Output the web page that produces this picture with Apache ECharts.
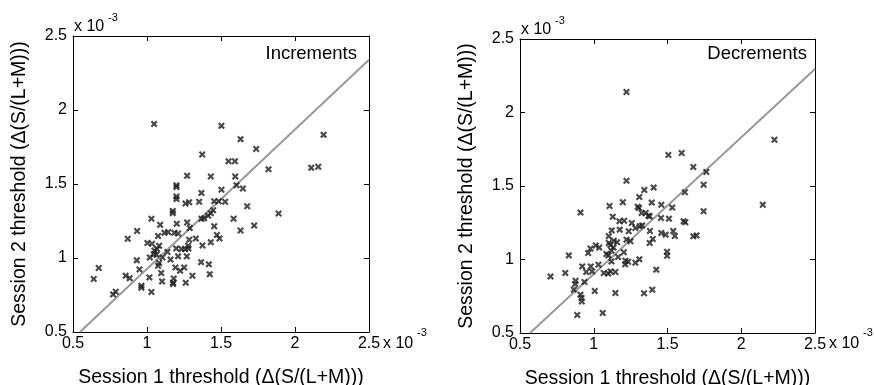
<!DOCTYPE html>
<html><head><meta charset="utf-8">
<script src="https://cdn.jsdelivr.net/npm/echarts@6/dist/echarts.min.js"></script>
<style>html,body{margin:0;padding:0;background:#fff}#c{width:874px;height:385px}</style>
</head><body><div id="c"></div>
<script>
const ticks = [0.5, 1, 1.5, 2, 2.5];
const incX = [1.048,1.503,1.632,1.738,2.193,2.110,2.157,1.821,1.889,1.373,1.551,1.594,1.271,1.431,1.596,1.605,1.648,1.503,1.199,1.199,1.199,1.199,1.368,1.260,1.285,1.352,1.454,1.485,1.528,1.677,1.174,1.174,1.447,1.431,1.413,1.386,1.368,1.030,1.585,1.271,1.201,1.089,1.454,1.724,1.632,0.933,1.118,1.143,1.185,1.210,1.075,1.289,0.870,1.330,1.472,1.490,1.285,1.431,1.003,1.034,1.082,1.068,1.375,1.278,1.280,1.258,1.197,1.233,1.050,1.046,1.138,1.064,1.019,0.931,1.104,1.210,1.269,1.159,1.082,1.075,1.366,1.418,0.949,1.192,1.251,1.224,0.674,0.640,0.856,0.883,1.016,1.096,1.102,1.181,1.176,1.176,1.262,1.307,1.424,0.962,0.962,1.030,0.771,0.789];
const incY = [1.906,1.893,1.803,1.737,1.832,1.609,1.616,1.600,1.301,1.699,1.654,1.654,1.555,1.551,1.551,1.492,1.470,1.461,1.492,1.479,1.416,1.398,1.440,1.368,1.377,1.380,1.384,1.384,1.380,1.350,1.317,1.303,1.323,1.303,1.285,1.269,1.265,1.265,1.265,1.240,1.231,1.224,1.215,1.220,1.186,1.182,1.170,1.175,1.170,1.166,1.148,1.202,1.130,1.132,1.155,1.132,1.123,1.107,1.101,1.096,1.083,1.060,1.085,1.083,1.065,1.060,1.065,1.060,1.051,1.026,1.040,1.022,1.004,0.984,1.004,1.011,1.011,0.990,0.966,0.948,0.972,0.957,0.923,0.936,0.936,0.914,0.932,0.858,0.880,0.864,0.869,0.898,0.842,0.862,0.824,0.833,0.833,0.880,0.891,0.813,0.799,0.770,0.754,0.772];
const decX = [1.222,2.225,2.146,1.506,1.596,1.675,1.763,1.745,1.618,1.745,1.222,1.406,1.343,1.309,1.197,1.393,1.458,1.107,0.910,1.298,1.307,1.325,1.352,1.379,1.370,1.532,1.456,1.510,1.174,1.206,1.129,1.258,1.312,1.328,1.609,1.621,1.176,1.122,1.237,1.282,1.381,1.458,1.488,1.539,1.550,1.675,1.697,1.102,1.400,1.379,1.222,1.136,1.102,1.113,1.158,1.249,1.014,1.037,0.978,0.962,1.086,1.100,1.134,1.120,1.204,0.831,1.497,1.497,1.165,1.215,1.213,1.233,1.309,1.282,1.120,1.032,0.922,0.980,0.949,0.989,1.068,1.098,1.113,1.147,1.424,0.707,0.807,0.877,0.874,0.937,0.865,0.910,0.917,0.919,1.007,1.147,1.341,1.397,0.888,1.061];
const decY = [2.139,1.815,1.373,1.711,1.724,1.629,1.595,1.509,1.457,1.328,1.536,1.489,1.473,1.425,1.389,1.387,1.373,1.364,1.319,1.359,1.350,1.316,1.316,1.294,1.298,1.353,1.282,1.278,1.260,1.264,1.291,1.248,1.226,1.232,1.260,1.253,1.203,1.198,1.192,1.214,1.194,1.180,1.169,1.194,1.160,1.158,1.164,1.158,1.140,1.112,1.135,1.128,1.112,1.099,1.117,1.124,1.095,1.081,1.074,1.044,1.037,1.028,1.081,1.060,1.049,1.028,1.053,1.026,1.017,0.992,0.967,0.985,1.001,0.978,0.987,0.965,0.953,0.953,0.915,0.919,0.908,0.904,0.919,0.915,0.931,0.885,0.908,0.856,0.833,0.847,0.795,0.761,0.738,0.715,0.786,0.772,0.770,0.795,0.622,0.636];
const incLineX = [0.547, 2.5], incLineY = [0.5, 2.34];
const decLineX = [0.568, 2.5], decLineY = [0.5, 2.296];
const panelTitles = ['Increments', 'Decrements'];
const xName = 'Session 1 threshold (\u0394(S/(L+M)))';
const yName = 'Session 2 threshold (\u0394(S/(L+M)))';

const FONT = '"Liberation Sans", Arial, sans-serif';
const xMark = 'path://M0,2.2L2.2,0L5,2.8L7.8,0L10,2.2L7.2,5L10,7.8L7.8,10L5,7.2L2.2,10L0,7.8L2.8,5Z';
const zip = (a, b) => a.map((v, i) => [v, b[i]]);

const grids = [
  {left: 73, top: 36, width: 296, height: 296, containLabel: false, outerBoundsMode: 'none'},
  {left: 520, top: 39, width: 295, height: 294, containLabel: false, outerBoundsMode: 'none'}
];
const axisCommon = {
  type: 'value', min: ticks[0], max: ticks[ticks.length - 1], interval: 0.5,
  axisLine: {show: true, onZero: false, lineStyle: {color: '#000', width: 1}},
  axisTick: {show: true, inside: true, length: 5, lineStyle: {color: '#000'}},
  splitLine: {show: false}
};
const xAxes = [], yAxes = [];
[0, 1].forEach(g => {
  xAxes.push(Object.assign({}, axisCommon, {
    gridIndex: g, position: 'bottom',
    axisLabel: {color: '#000', fontSize: 16, fontFamily: FONT, margin: 4},
    name: xName, nameLocation: 'middle', nameGap: 36,
    nameTextStyle: {color: '#000', fontSize: 19.5, fontFamily: FONT}
  }));
  xAxes.push(Object.assign({}, axisCommon, {gridIndex: g, position: 'top', axisLabel: {show: false}}));
  yAxes.push(Object.assign({}, axisCommon, {
    gridIndex: g, position: 'left',
    axisLabel: {color: '#000', fontSize: 16, fontFamily: FONT, margin: 6},
    name: yName, nameLocation: 'middle', nameRotate: 90, nameGap: 43,
    nameTextStyle: {color: '#000', fontSize: 19.5, fontFamily: FONT}
  }));
  yAxes.push(Object.assign({}, axisCommon, {gridIndex: g, position: 'right', axisLabel: {show: false}}));
});

const scatterStyle = {symbol: xMark, symbolSize: 7, itemStyle: {color: '#1e1e1e'}, silent: true};
const lineStyle = {showSymbol: false, symbol: 'none', lineStyle: {color: '#999', width: 2}, silent: true};

const txt = (x, y, text, size, align) => ({type: 'text', x: x, y: y,
  style: {text: text, fill: '#000', font: size + 'px ' + FONT, textAlign: align || 'left', textVerticalAlign: 'middle'}});

const option = {
  animation: false,
  grid: grids,
  xAxis: xAxes,
  yAxis: yAxes,
  series: [
    Object.assign({type: 'line', xAxisIndex: 0, yAxisIndex: 0, data: zip(incLineX, incLineY), z: 3}, lineStyle),
    Object.assign({type: 'scatter', xAxisIndex: 0, yAxisIndex: 0, data: zip(incX, incY), z: 4}, scatterStyle),
    Object.assign({type: 'line', xAxisIndex: 2, yAxisIndex: 2, data: zip(decLineX, decLineY), z: 3}, lineStyle),
    Object.assign({type: 'scatter', xAxisIndex: 2, yAxisIndex: 2, data: zip(decX, decY), z: 4}, scatterStyle)
  ],
  graphic: [
    txt(357, 54, panelTitles[0], 18.5, 'right'),
    txt(807, 54, panelTitles[1], 18.5, 'right'),
    txt(74, 27, 'x 10', 16),
    txt(108, 18, '-3', 11),
    txt(521, 30, 'x 10', 16),
    txt(555, 21, '-3', 11),
    txt(383, 344, 'x 10', 16),
    txt(417, 333, '-3', 11),
    txt(829, 344, 'x 10', 16),
    txt(863, 333, '-3', 11)
  ]
};
const chart = echarts.init(document.getElementById('c'), null, {renderer: 'canvas'});
chart.setOption(option);
</script></body></html>
